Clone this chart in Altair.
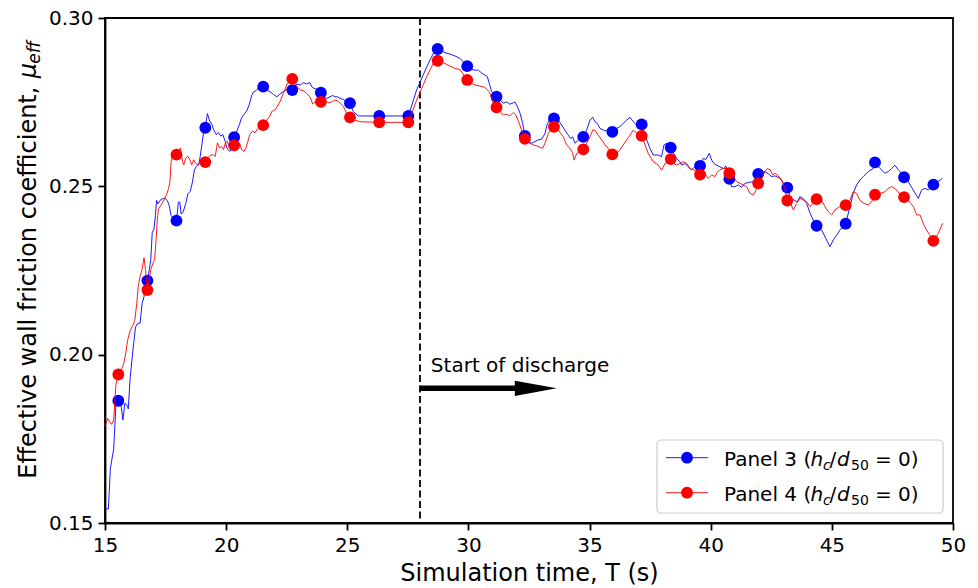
import altair as alt
import pandas as pd

FONT = "DejaVu Sans"
BLUE = "#0000ff"
RED = "#ff0000"

# Axis ticks
x_ticks = [15, 20, 25, 30, 35, 40, 45, 50]
y_ticks = [0.15, 0.20, 0.25, 0.30]

# Times at which markers are drawn (shared by both panels)
marker_t = [15.55, 16.75, 17.95, 19.14, 20.33, 21.53, 22.73, 23.91, 25.11, 26.32,
            27.52, 28.73, 29.95, 31.16, 32.33, 33.53, 34.74, 35.94, 37.15, 38.35,
            39.56, 40.77, 41.96, 43.16, 44.37, 45.57, 46.78, 47.98, 49.19]

panel3_marker_mu = [0.1863, 0.2220, 0.2398, 0.2674, 0.2646, 0.2796, 0.2786, 0.2778, 0.2747, 0.2709,
                    0.2709, 0.2908, 0.2857, 0.2766, 0.2650, 0.2702, 0.2647, 0.2662, 0.2684, 0.2615,
                    0.2561, 0.2522, 0.2537, 0.2496, 0.2383, 0.2389, 0.2571, 0.2527, 0.2505]

panel4_marker_mu = [0.1941, 0.2192, 0.2594, 0.2572, 0.2622, 0.2682, 0.2819, 0.2751, 0.2705, 0.2690,
                    0.2690, 0.2873, 0.2816, 0.2735, 0.2641, 0.2677, 0.2610, 0.2595, 0.2650, 0.2581,
                    0.2535, 0.2539, 0.2509, 0.2458, 0.2462, 0.2444, 0.2475, 0.2468, 0.2338]

# Panel 3 time series (samples between the markers)
panel3_t = [15.00, 15.14, 15.22, 15.36, 15.45, 15.66, 15.74, 15.82, 15.90, 15.96,
            16.04, 16.15, 16.26, 16.34, 16.45, 16.53, 16.61, 16.68, 16.83, 16.89,
            16.95, 17.02, 17.08, 17.13, 17.19, 17.27, 17.36, 17.46, 17.57, 17.65,
            17.73, 17.84, 18.03, 18.09, 18.14, 18.22, 18.33, 18.42, 18.52, 18.61,
            18.69, 18.77, 18.87, 18.93, 19.02, 19.07, 19.18, 19.23, 19.32, 19.41,
            19.48, 19.59, 19.69, 19.78, 19.86, 19.96, 20.03, 20.14, 20.23, 20.44,
            20.55, 20.64, 20.74, 20.85, 20.96, 21.05, 21.12, 21.23, 21.33, 21.42,
            21.67, 21.81, 21.95, 22.09, 22.22, 22.36, 22.50, 22.91, 23.05, 23.19,
            23.32, 23.46, 23.53, 23.63, 23.74, 24.04, 24.15, 24.29, 24.40, 24.49,
            24.59, 24.70, 24.84, 24.97, 25.25, 25.46, 27.86, 28.28, 28.55, 29.03,
            29.24, 29.45, 29.65, 30.13, 30.27, 30.41, 30.55, 30.68, 30.78, 30.86,
            30.96, 31.30, 31.44, 31.58, 31.71, 31.85, 31.92, 32.02, 32.13, 32.24,
            32.47, 32.61, 32.75, 32.88, 33.02, 33.16, 33.26, 33.43, 33.71, 33.85,
            33.98, 34.12, 34.22, 34.30, 34.40, 34.54, 34.88, 35.02, 35.13, 35.22,
            35.32, 35.43, 35.57, 35.70, 36.12, 36.25, 36.39, 36.53, 36.67, 36.80,
            36.94, 37.36, 37.49, 37.63, 37.84, 37.97, 38.07, 38.18, 38.46, 38.59,
            38.73, 38.80, 38.94, 39.07, 39.21, 39.35, 39.69, 39.80, 39.94, 40.04,
            40.13, 40.24, 40.38, 40.52, 40.63, 40.86, 41.00, 41.14, 41.28, 41.41,
            41.55, 41.76, 42.10, 42.24, 42.38, 42.51, 42.65, 42.86, 43.00, 43.30,
            43.44, 43.57, 43.68, 43.82, 43.96, 44.10, 44.23, 44.58, 44.78, 44.92,
            45.06, 45.20, 45.33, 45.75, 45.88, 46.02, 46.16, 46.30, 46.50, 46.71,
            46.99, 47.19, 47.33, 47.47, 47.60, 47.74, 47.88, 48.15, 48.36, 48.57,
            48.70, 48.84, 48.98, 49.39, 49.57]
panel3_mu = [0.1542, 0.1542, 0.1661, 0.1721, 0.1851, 0.1851, 0.1806, 0.1856, 0.1851, 0.1839,
             0.1932, 0.2012, 0.2082, 0.2092, 0.2094, 0.2152, 0.2172, 0.2207, 0.2253, 0.2283,
             0.2363, 0.2373, 0.2413, 0.2458, 0.2448, 0.2458, 0.2463, 0.2465, 0.2458, 0.2443,
             0.2413, 0.2403, 0.2453, 0.2453, 0.2418, 0.2423, 0.2448, 0.2478, 0.2485, 0.2513,
             0.2549, 0.2559, 0.2564, 0.2589, 0.2634, 0.2664, 0.2694, 0.2716, 0.2694, 0.2684,
             0.2669, 0.2654, 0.2659, 0.2649, 0.2654, 0.2634, 0.2614, 0.2604, 0.2609, 0.2664,
             0.2684, 0.2704, 0.2714, 0.2724, 0.2744, 0.2769, 0.2779, 0.2784, 0.2792, 0.2794,
             0.2786, 0.2781, 0.2773, 0.2766, 0.2774, 0.2781, 0.2788, 0.2804, 0.2801, 0.2808,
             0.2804, 0.2808, 0.2796, 0.2791, 0.2788, 0.2766, 0.2761, 0.2766, 0.2770, 0.2766,
             0.2766, 0.2761, 0.2758, 0.2751, 0.2722, 0.2709, 0.2786, 0.2855, 0.2895, 0.2897,
             0.2893, 0.2887, 0.2880, 0.2847, 0.2845, 0.2845, 0.2836, 0.2831, 0.2826, 0.2806,
             0.2781, 0.2756, 0.2747, 0.2751, 0.2744, 0.2748, 0.2751, 0.2737, 0.2717, 0.2687,
             0.2633, 0.2628, 0.2633, 0.2638, 0.2640, 0.2657, 0.2687, 0.2705, 0.2697, 0.2682,
             0.2667, 0.2652, 0.2642, 0.2647, 0.2628, 0.2638, 0.2667, 0.2697, 0.2705, 0.2692,
             0.2687, 0.2672, 0.2667, 0.2665, 0.2672, 0.2677, 0.2687, 0.2697, 0.2705, 0.2692,
             0.2682, 0.2638, 0.2613, 0.2593, 0.2593, 0.2588, 0.2623, 0.2628, 0.2598, 0.2583,
             0.2573, 0.2563, 0.2568, 0.2558, 0.2549, 0.2558, 0.2583, 0.2580, 0.2598, 0.2578,
             0.2568, 0.2563, 0.2558, 0.2553, 0.2560, 0.2499, 0.2499, 0.2504, 0.2497, 0.2509,
             0.2511, 0.2514, 0.2541, 0.2544, 0.2537, 0.2529, 0.2531, 0.2524, 0.2509, 0.2464,
             0.2459, 0.2454, 0.2469, 0.2464, 0.2449, 0.2420, 0.2400, 0.2370, 0.2341, 0.2321,
             0.2341, 0.2355, 0.2370, 0.2440, 0.2479, 0.2504, 0.2519, 0.2529, 0.2544, 0.2553,
             0.2553, 0.2539, 0.2544, 0.2553, 0.2563, 0.2549, 0.2539, 0.2514, 0.2489, 0.2464,
             0.2489, 0.2494, 0.2489, 0.2514, 0.2524]

# Panel 4 time series (samples between the markers)
panel4_t = [15.00, 15.11, 15.19, 15.27, 15.36, 15.45, 15.66, 15.77, 15.85, 15.93,
            16.04, 16.15, 16.23, 16.31, 16.37, 16.45, 16.53, 16.61, 16.67, 16.89,
            16.99, 17.05, 17.10, 17.16, 17.21, 17.30, 17.38, 17.46, 17.54, 17.62,
            17.68, 17.73, 17.81, 18.03, 18.11, 18.20, 18.25, 18.33, 18.42, 18.50,
            18.58, 18.66, 18.74, 18.83, 18.93, 19.23, 19.34, 19.45, 19.55, 19.64,
            19.73, 19.81, 19.89, 19.97, 20.05, 20.14, 20.23, 20.44, 20.55, 20.64,
            20.74, 20.82, 20.90, 20.98, 21.09, 21.19, 21.28, 21.39, 21.67, 21.81,
            21.88, 22.02, 22.09, 22.22, 22.36, 22.50, 22.64, 22.84, 22.98, 23.07,
            23.19, 23.32, 23.46, 23.57, 23.67, 23.80, 24.08, 24.22, 24.36, 24.49,
            24.59, 24.70, 24.84, 24.97, 25.32, 25.52, 27.86, 28.28, 28.55, 29.03,
            29.24, 29.45, 29.65, 30.13, 30.27, 30.48, 30.68, 30.86, 31.03, 31.30,
            31.44, 31.58, 31.71, 31.85, 31.96, 32.10, 32.24, 32.54, 32.68, 32.82,
            32.95, 33.06, 33.16, 33.30, 33.43, 33.71, 33.92, 34.05, 34.19, 34.30,
            34.36, 34.47, 34.88, 35.02, 35.13, 35.22, 35.36, 35.50, 35.64, 35.77,
            36.12, 36.25, 36.39, 36.53, 36.67, 36.80, 36.97, 37.29, 37.42, 37.63,
            37.84, 37.97, 38.11, 38.25, 38.46, 38.59, 38.73, 38.87, 39.01, 39.14,
            39.28, 39.42, 39.69, 39.80, 39.90, 40.04, 40.18, 40.27, 40.38, 40.52,
            40.66, 40.93, 41.07, 41.21, 41.34, 41.48, 41.62, 41.76, 41.87, 42.10,
            42.24, 42.33, 42.45, 42.56, 42.65, 42.79, 42.93, 43.06, 43.30, 43.41,
            43.55, 43.68, 43.82, 43.96, 44.10, 44.23, 44.58, 44.71, 44.85, 44.99,
            45.13, 45.33, 45.75, 45.88, 46.02, 46.16, 46.30, 46.50, 46.64, 46.99,
            47.19, 47.33, 47.47, 47.60, 47.78, 48.15, 48.36, 48.50, 48.64, 48.77,
            48.91, 49.05, 49.39, 49.57]
panel4_mu = [0.1786, 0.1811, 0.1801, 0.1793, 0.1806, 0.1911, 0.1954, 0.1972, 0.2002, 0.2042,
             0.2072, 0.2087, 0.2102, 0.2152, 0.2202, 0.2232, 0.2253, 0.2288, 0.2253, 0.2253,
             0.2273, 0.2283, 0.2333, 0.2403, 0.2433, 0.2443, 0.2453, 0.2463, 0.2475, 0.2493,
             0.2513, 0.2574, 0.2599, 0.2599, 0.2614, 0.2574, 0.2564, 0.2584, 0.2589, 0.2579,
             0.2564, 0.2579, 0.2569, 0.2564, 0.2574, 0.2584, 0.2592, 0.2594, 0.2589, 0.2629,
             0.2614, 0.2619, 0.2609, 0.2629, 0.2634, 0.2614, 0.2619, 0.2619, 0.2629, 0.2609,
             0.2604, 0.2614, 0.2634, 0.2654, 0.2664, 0.2659, 0.2669, 0.2679, 0.2697, 0.2709,
             0.2722, 0.2727, 0.2735, 0.2751, 0.2776, 0.2801, 0.2816, 0.2806, 0.2791, 0.2786,
             0.2784, 0.2776, 0.2766, 0.2745, 0.2751, 0.2754, 0.2756, 0.2748, 0.2751, 0.2756,
             0.2754, 0.2748, 0.2737, 0.2717, 0.2697, 0.2692, 0.2756, 0.2826, 0.2865, 0.2865,
             0.2857, 0.2850, 0.2847, 0.2806, 0.2801, 0.2798, 0.2794, 0.2781, 0.2747, 0.2722,
             0.2712, 0.2714, 0.2709, 0.2719, 0.2712, 0.2687, 0.2657, 0.2628, 0.2623, 0.2620,
             0.2616, 0.2613, 0.2628, 0.2657, 0.2672, 0.2667, 0.2647, 0.2623, 0.2613, 0.2600,
             0.2578, 0.2598, 0.2628, 0.2647, 0.2667, 0.2667, 0.2652, 0.2638, 0.2623, 0.2613,
             0.2598, 0.2608, 0.2623, 0.2638, 0.2652, 0.2667, 0.2657, 0.2623, 0.2598, 0.2573,
             0.2563, 0.2548, 0.2568, 0.2573, 0.2568, 0.2563, 0.2568, 0.2573, 0.2568, 0.2553,
             0.2549, 0.2544, 0.2529, 0.2534, 0.2524, 0.2534, 0.2529, 0.2541, 0.2549, 0.2553,
             0.2553, 0.2529, 0.2514, 0.2509, 0.2504, 0.2499, 0.2479, 0.2474, 0.2489, 0.2524,
             0.2544, 0.2553, 0.2549, 0.2534, 0.2539, 0.2531, 0.2519, 0.2494, 0.2449, 0.2430,
             0.2449, 0.2464, 0.2459, 0.2454, 0.2440, 0.2449, 0.2459, 0.2440, 0.2425, 0.2415,
             0.2430, 0.2440, 0.2459, 0.2484, 0.2479, 0.2459, 0.2450, 0.2445, 0.2454, 0.2479,
             0.2484, 0.2494, 0.2499, 0.2494, 0.2479, 0.2459, 0.2440, 0.2415, 0.2415, 0.2390,
             0.2370, 0.2355, 0.2360, 0.2390]

# Discharge annotation
discharge_t = 28.0
arrow_mu = 0.19
arrow_shaft_end_t = 32.0
arrow_head_center_t = 32.78
note_t = 28.45
note_mu = 0.195
note_text = "Start of discharge"


def series_frame(trace_t, trace_mu, mark_mu):
    df = pd.DataFrame({"T": list(trace_t) + list(marker_t),
                       "mu": list(trace_mu) + list(mark_mu)})
    return df.sort_values("T").reset_index(drop=True)


panel3_line = series_frame(panel3_t, panel3_mu, panel3_marker_mu)
panel4_line = series_frame(panel4_t, panel4_mu, panel4_marker_mu)
panel3_marks = pd.DataFrame({"T": marker_t, "mu": panel3_marker_mu})
panel4_marks = pd.DataFrame({"T": marker_t, "mu": panel4_marker_mu})

x_enc = alt.X("T:Q",
              scale=alt.Scale(domain=[15, 50], nice=False, zero=False),
              axis=alt.Axis(values=x_ticks, format="d", labelFlush=False,
                            title="Simulation time, T (s)",
                            titleY=57, titleBaseline="alphabetic"))
y_enc = alt.Y("mu:Q",
              scale=alt.Scale(domain=[0.15, 0.30], nice=False, zero=False),
              axis=alt.Axis(values=y_ticks, format=".2f", labelFlush=False, title=None))

one = pd.DataFrame({"k": [0]})

layers = []

# vertical dashed line marking the start of discharge
layers.append(
    alt.Chart(pd.DataFrame({"T": [discharge_t]}))
    .mark_rule(color="black", strokeWidth=1.8, strokeDash=[7, 3.5])
    .encode(x=x_enc)
)

# both panels: thin line + markers
for line_df, mark_df, col in [(panel3_line, panel3_marks, BLUE),
                              (panel4_line, panel4_marks, RED)]:
    layers.append(
        alt.Chart(line_df).mark_line(color=col, strokeWidth=0.9)
        .encode(x=x_enc, y=y_enc, order="T:Q")
    )
    layers.append(
        alt.Chart(mark_df).mark_circle(color=col, size=140, opacity=1)
        .encode(x=x_enc, y=y_enc)
    )

# arrow: shaft and head
layers.append(
    alt.Chart(pd.DataFrame({"T": [discharge_t], "T2": [arrow_shaft_end_t], "mu": [arrow_mu]}))
    .mark_rule(color="black", strokeWidth=5.5)
    .encode(x=x_enc, x2="T2:Q", y=y_enc)
)
layers.append(
    alt.Chart(pd.DataFrame({"T": [arrow_head_center_t], "mu": [arrow_mu]}))
    .mark_point(shape="M -1 -0.36 L 1 0 L -1 0.36 Z", size=1764, filled=True,
                color="black", opacity=1, strokeWidth=0)
    .encode(x=x_enc, y=y_enc)
)
layers.append(
    alt.Chart(pd.DataFrame({"T": [note_t], "mu": [note_mu], "label": [note_text]}))
    .mark_text(align="left", baseline="alphabetic", fontSize=20, font=FONT, color="black")
    .encode(x=x_enc, y=y_enc, text="label:N")
)

# legend frame
layers.append(
    alt.Chart(one).mark_rect(fill="white", fillOpacity=0.8, stroke="#cccccc",
                             strokeWidth=1.2, cornerRadius=4)
    .encode(x=alt.value(552), x2=alt.value(838), y=alt.value(422), y2=alt.value(495))
)


def text_piece(txt, px, py, size=20, italic=False, angle=None):
    kw = dict(text=txt, align="left", baseline="alphabetic", fontSize=size,
              font=FONT, color="black")
    if italic:
        kw["fontStyle"] = "italic"
    if angle is not None:
        kw["angle"] = angle
    return alt.Chart(one).mark_text(**kw).encode(x=alt.value(px), y=alt.value(py))


legend_rows = [("3", BLUE, 439.7, 447.7), ("4", RED, 474.7, 482.7)]
for num, col, yc, yb in legend_rows:
    layers.append(
        alt.Chart(one).mark_rule(color=col, strokeWidth=0.9)
        .encode(x=alt.value(561), x2=alt.value(603), y=alt.value(yc))
    )
    layers.append(
        alt.Chart(one).mark_circle(color=col, size=140, opacity=1)
        .encode(x=alt.value(582), y=alt.value(yc))
    )
    layers.append(text_piece(f"Panel {num} (", 619, yb))
    layers.append(text_piece("h", 705.5, yb, italic=True))
    layers.append(text_piece("c", 718, yb + 4, size=14, italic=True))
    layers.append(text_piece("/", 724.5, yb))
    layers.append(text_piece("d", 732, yb, italic=True))
    layers.append(text_piece("50", 746, yb + 4, size=14))
    layers.append(text_piece("= 0)", 770, yb))

# rotated y-axis title with the mu_eff symbol
layers.append(text_piece("Effective wall friction coefficient, ", -69.5, 460.75, size=24, angle=270))
layers.append(text_piece("\u03bc", -69.5, 60.15, size=24, italic=True, angle=270))
layers.append(text_piece("eff", -65, 45.65, size=17, italic=True, angle=270))

chart = (
    alt.layer(*layers)
    .properties(width=848, height=505,
                autosize=alt.AutoSizeParams(type="none"),
                padding={"left": 105, "top": 18, "right": 25, "bottom": 65})
    .configure(font=FONT)
    .configure_view(stroke="black", strokeWidth=1.8)
    .configure_axis(grid=False, domainColor="black", domainWidth=1.8,
                    tickColor="black", tickWidth=1.8, tickSize=7,
                    labelFont=FONT, labelFontSize=20, labelColor="black", labelPadding=5,
                    titleFont=FONT, titleFontSize=24, titleFontWeight="normal",
                    titleColor="black")
)

chart.save("out.html", embed_options={"renderer": "svg", "actions": False})
